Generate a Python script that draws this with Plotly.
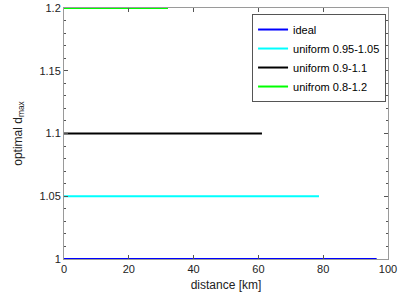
import plotly.graph_objects as go

names = ["ideal", "uniform 0.95-1.05", "uniform 0.9-1.1", "unifrom 0.8-1.2"]
colors = ["#0000ff", "#00ffff", "#000000", "#00ff00"]
x_end = [96.5, 78.7, 61.1, 32.1]
y_val = [1.0, 1.05, 1.1, 1.2]

fig = go.Figure()
for n, c, xe, yv in zip(names, colors, x_end, y_val):
    fig.add_trace(go.Scatter(x=[0, xe], y=[yv, yv], mode="lines", name=n,
                             line=dict(color=c, width=2)))

axis_common = dict(showline=True, linecolor="#9a9a9a", linewidth=1, mirror="ticks",
                   ticks="inside", tickcolor="#555555", ticklen=4, showgrid=False,
                   zeroline=False, tickfont=dict(size=11, color="#222222"))
fig.update_xaxes(range=[0, 100], dtick=20, tick0=0,
                 title=dict(text="distance [km]", font=dict(size=12, color="#222222"), standoff=6),
                 **axis_common)
fig.update_yaxes(range=[1, 1.2], dtick=0.05, tick0=1,
                 minor=dict(ticks="inside", dtick=0.01, ticklen=2, tickcolor="#555555"),
                 title=dict(text="optimal d<sub>max</sub>", font=dict(size=12, color="#222222"), standoff=14),
                 **axis_common)
fig.update_layout(
    width=409, height=300,
    margin=dict(l=64, r=21, t=8, b=41, autoexpand=False),
    paper_bgcolor="white", plot_bgcolor="white",
    font=dict(family="Liberation Sans, Arial, sans-serif", size=11, color="black"),
    legend=dict(x=0.994, y=0.976, xanchor="right", yanchor="top",
                bordercolor="#555555", borderwidth=1, bgcolor="white",
                font=dict(size=11), tracegroupgap=0, itemwidth=30),
    showlegend=True,
)
fig.write_html("out.html", config={"displayModeBar": False},
               post_script="document.body.style.margin='0';document.body.style.overflow='hidden';")
